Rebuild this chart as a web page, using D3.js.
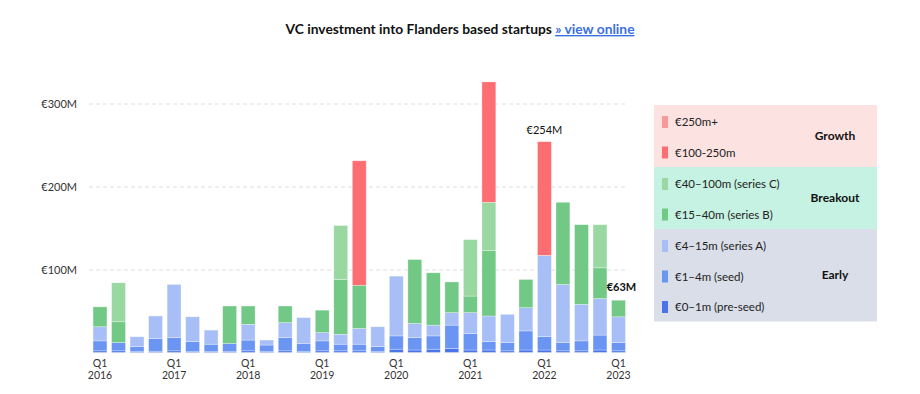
<!DOCTYPE html>
<html>
<head>
<meta charset="utf-8">
<script src="https://cdn.jsdelivr.net/npm/d3@7"></script>
<style>
  body { margin: 0; background: #fff; }
  svg { display: block; font-family: Lato, "Noto Sans", sans-serif; }
  .title-link { fill: #3a6fe2; text-decoration: underline; }
</style>
</head>
<body>
<script>
// data (EUR millions per quarter, Q1 2016 .. Q1 2023)
var quarters = ['2016Q1','2016Q2','2016Q3','2016Q4','2017Q1','2017Q2','2017Q3','2017Q4',
  '2018Q1','2018Q2','2018Q3','2018Q4','2019Q1','2019Q2','2019Q3','2019Q4',
  '2020Q1','2020Q2','2020Q3','2020Q4','2021Q1','2021Q2','2021Q3','2021Q4',
  '2022Q1','2022Q2','2022Q3','2022Q4','2023Q1'];
var preSeed  = [2, 2, 1, 1, 2, 1, 1, 1, 2, 1, 2, 1, 2, 2, 2, 1, 4, 3, 4, 5, 3, 3, 2, 3, 3, 2, 2, 3, 2];
var seed     = [12, 10, 6, 16, 16, 12, 9, 10, 13, 8, 16, 10, 12, 8, 8, 6, 16, 15, 16, 28, 20, 10, 10, 23, 16, 10, 12, 18, 10];
var seriesA  = [17, 0, 12, 27, 64, 30, 17, 0, 19, 6, 18, 31, 10, 12, 19, 24, 72, 17, 13, 15, 25, 31, 34, 28, 98, 70, 44, 44, 31];
var seriesB  = [24, 25, 0, 0, 0, 0, 0, 45, 22, 0, 20, 0, 27, 66, 52, 0, 0, 77, 63, 37, 20, 79, 0, 34, 0, 99, 96, 37, 20];
var seriesC  = [0, 47, 0, 0, 0, 0, 0, 0, 0, 0, 0, 0, 0, 65, 0, 0, 0, 0, 0, 0, 68, 58, 0, 0, 0, 0, 0, 52, 0];
var growth1  = [0, 0, 0, 0, 0, 0, 0, 0, 0, 0, 0, 0, 0, 0, 150, 0, 0, 0, 0, 0, 0, 145, 0, 0, 137, 0, 0, 0, 0];
var growth2  = [0, 0, 0, 0, 0, 0, 0, 0, 0, 0, 0, 0, 0, 0, 0, 0, 0, 0, 0, 0, 0, 0, 0, 0, 0, 0, 0, 0, 0];
var yTicks = [100, 200, 300];
var seriesKeys = ['preSeed', 'seed', 'seriesA', 'seriesB', 'seriesC', 'growth1', 'growth2'];
var seriesLabels = ['€0–1m (pre-seed)', '€1–4m (seed)', '€4–15m (series A)', '€15–40m (series B)',
  '€40–100m (series C)', '€100-250m', '€250m+'];
var groups = [
  {name: 'Growth', keys: ['growth2', 'growth1']},
  {name: 'Breakout', keys: ['seriesC', 'seriesB']},
  {name: 'Early', keys: ['seriesA', 'seed', 'preSeed']}
];
var callouts = [{q: '2022Q1', text: '€254M', bold: false}, {q: '2023Q1', text: '€63M', bold: true}];
//end data

var colors = {
  preSeed: '#4a74ea', seed: '#6b95f2', seriesA: '#a7bff6',
  seriesB: '#72c885', seriesC: '#9ad8a2', growth1: '#fd6e73', growth2: '#f99a9a'
};
var groupBg = {Growth: '#fde2e2', Breakout: '#c6f2e3', Early: '#d9dee9'};

var width = 920, height = 394;
var svg = d3.select('body').append('svg')
  .attr('width', width)
  .attr('height', height);

var seriesData = {preSeed: preSeed, seed: seed, seriesA: seriesA, seriesB: seriesB,
  seriesC: seriesC, growth1: growth1, growth2: growth2};
var table = quarters.map(function (q, i) {
  var row = {q: q};
  seriesKeys.forEach(function (k) { row[k] = seriesData[k][i]; });
  return row;
});
var stacked = d3.stack().keys(seriesKeys)(table);

// scales
var x = d3.scaleBand()
  .domain(quarters)
  .range([87.5, 631])
  .paddingInner(0.25)
  .paddingOuter(0.3);
var y = d3.scaleLinear()
  .domain([0, 300])
  .range([352.5, 103.5]);

// title
var title = svg.append('text')
  .attr('x', 460)
  .attr('y', 34)
  .attr('text-anchor', 'middle')
  .style('font-size', '13.8px')
  .style('font-weight', 'bold')
  .attr('fill', '#111');
title.append('tspan').text('VC investment into Flanders based startups ');
title.append('tspan').attr('class', 'title-link').text('» view online');

// grid + y labels
var gGrid = svg.append('g').attr('class', 'grid');
gGrid.selectAll('line')
  .data(yTicks)
  .enter().append('line')
  .attr('x1', 89)
  .attr('x2', 628)
  .attr('y1', function (d) { return y(d) + 0.5; })
  .attr('y2', function (d) { return y(d) + 0.5; })
  .attr('stroke', '#dedede')
  .attr('stroke-dasharray', '4,3');
gGrid.selectAll('text')
  .data(yTicks)
  .enter().append('text')
  .attr('x', 77)
  .attr('y', function (d) { return y(d) + 4; })
  .attr('text-anchor', 'end')
  .style('font-size', '11px')
  .attr('fill', '#333')
  .text(function (d) { return '€' + d + 'M'; });

// bars
var gBars = svg.append('g').attr('class', 'bars');
gBars.selectAll('g')
  .data(stacked)
  .enter().append('g')
  .attr('fill', function (d) { return colors[d.key]; })
  .selectAll('rect')
  .data(function (d) { return d; })
  .enter().append('rect')
  .attr('x', function (d) { return x(d.data.q); })
  .attr('width', x.bandwidth())
  .attr('y', function (d) { return y(d[1]); })
  .attr('height', function (d) { return Math.max(0, y(d[0]) - y(d[1])); })
  .attr('stroke', '#fff')
  .attr('stroke-opacity', 0.5)
  .attr('stroke-width', function (d) { return d[1] > d[0] ? 0.6 : 0; });

// x labels at Q1
var gX = svg.append('g').attr('class', 'xlabels');
var q1s = quarters.filter(function (q) { return q.slice(4) === 'Q1'; });
var xl = gX.selectAll('text')
  .data(q1s)
  .enter().append('text')
  .attr('x', function (d) { return x(d) + x.bandwidth() / 2; })
  .attr('y', 367)
  .attr('text-anchor', 'middle')
  .style('font-size', '10.5px')
  .attr('fill', '#333');
xl.append('tspan').text('Q1');
xl.append('tspan')
  .attr('x', function (d) { return x(d) + x.bandwidth() / 2; })
  .attr('dy', 12)
  .text(function (d) { return d.slice(0, 4); });

// callouts
var totals = {};
table.forEach(function (r) { totals[r.q] = d3.sum(seriesKeys, function (k) { return r[k]; }); });
svg.append('g').selectAll('text')
  .data(callouts)
  .enter().append('text')
  .attr('x', function (d) { return x(d.q) + x.bandwidth() / 2 + (d.bold ? 3 : 0); })
  .attr('y', function (d) { return y(totals[d.q]) - (d.bold ? 9 : 8); })
  .attr('text-anchor', 'middle')
  .style('font-size', '11px')
  .style('font-weight', function (d) { return d.bold ? 'bold' : 'normal'; })
  .attr('fill', '#111')
  .text(function (d) { return d.text; });

// legend
var legendX = 654, legendW = 223, itemH = 30.5, legendTop = 105;
var gLegend = svg.append('g').attr('class', 'legend');
var cursor = legendTop;
groups.forEach(function (g) {
  var h = g.keys.length * itemH + 1;
  gLegend.append('rect')
    .attr('x', legendX).attr('y', cursor)
    .attr('width', legendW).attr('height', h)
    .attr('fill', groupBg[g.name]);
  gLegend.append('text')
    .attr('x', 835).attr('y', cursor + h / 2 + 4)
    .attr('text-anchor', 'middle')
    .style('font-size', '12px')
    .style('font-weight', 'bold')
    .attr('fill', '#111')
    .text(g.name);
  g.keys.forEach(function (k, j) {
    var cy = cursor + 17 + j * itemH;
    gLegend.append('rect')
      .attr('x', 662).attr('y', cy - 6)
      .attr('width', 6).attr('height', 12)
      .attr('fill', colors[k]);
    gLegend.append('text')
      .attr('x', 675).attr('y', cy + 4)
      .style('font-size', '11.5px')
      .attr('fill', '#222')
      .text(seriesLabels[seriesKeys.indexOf(k)]);
  });
  cursor += h;
});
</script>
</body>
</html>
